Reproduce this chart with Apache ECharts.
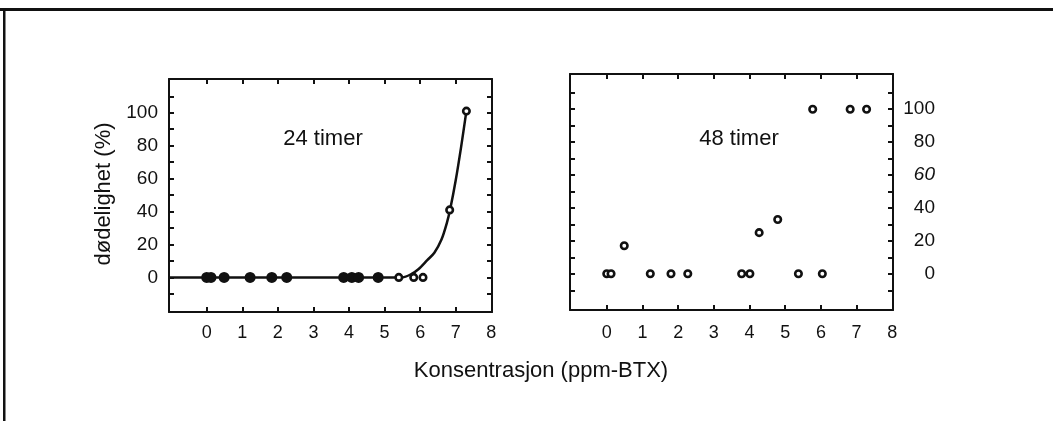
<!DOCTYPE html>
<html>
<head>
<meta charset="utf-8">
<script src="https://cdn.jsdelivr.net/npm/echarts@6/dist/echarts.min.js"></script>
<style>
html,body{margin:0;padding:0;background:#fff;}
#c{width:1053px;height:421px;}
</style>
</head>
<body>
<div id="c"></div>
<script>
// ---- data ----
const xTickValues = [0, 1, 2, 3, 4, 5, 6, 7, 8];
const yTickValues = [-10, 0, 10, 20, 30, 40, 50, 60, 70, 80, 90, 100, 110];
const yLabelValues = [0, 20, 40, 60, 80, 100];

// 24 timer (left panel)
const conc24Filled = [0, 0.12, 0.49, 1.22, 1.83, 2.25, 3.85, 4.08, 4.27, 4.82];
const mort24Filled = [0, 0, 0, 0, 0, 0, 0, 0, 0, 0];
const conc24Open = [5.4, 5.82, 6.08, 6.83, 7.3];
const mort24Open = [0, 0, 0, 41, 101];
const curve24X = [-1.06, 5.5, 5.75, 5.95, 6.2, 6.4, 6.6, 6.75, 6.85, 7.0, 7.15, 7.3];
const curve24Y = [0, 0, 2, 5, 10.5, 15, 23, 33, 42, 59, 79, 101];

// 48 timer (right panel)
const conc48 = [0, 0.12, 0.49, 1.22, 1.8, 2.27, 3.78, 4.01, 4.27, 4.79, 5.37, 5.77, 6.04, 6.82, 7.28];
const mort48 = [0, 0, 17, 0, 0, 0, 0, 0, 25, 33, 0, 100, 0, 100, 100];

const FONT = '"Liberation Sans", Arial, Helvetica, sans-serif';
const INK = '#111';

function pairs(xs, ys) { return xs.map((x, i) => [x, ys[i]]); }

const axisLine = { show: true, onZero: false, lineStyle: { color: INK, width: 2 } };
function tick(vals) {
  return { show: true, inside: true, length: 5, customValues: vals, lineStyle: { color: INK, width: 2 } };
}

function xAxes(gridIndex, min, max, margin) {
  return [
    { type: 'value', gridIndex, position: 'bottom', min, max, axisLine,
      axisTick: tick(xTickValues), splitLine: { show: false },
      axisLabel: { show: true, customValues: xTickValues, margin, color: INK, fontSize: 18, fontFamily: FONT } },
    { type: 'value', gridIndex, position: 'top', min, max, axisLine,
      axisTick: tick(xTickValues), splitLine: { show: false }, axisLabel: { show: false } }
  ];
}

function yAxes(gridIndex, min, max, labelSide) {
  const labelled = {
    show: true, customValues: yLabelValues, color: INK, fontSize: 19, fontFamily: FONT,
    formatter: v => (labelSide === 'right' && v === 60) ? '{it|60}' : String(v),
    rich: { it: { fontStyle: 'italic', fontSize: 19, fontFamily: FONT, color: INK } }
  };
  if (labelSide === 'right') { labelled.align = 'right'; labelled.margin = 42; }
  else { labelled.margin = 11; }
  return [
    { type: 'value', gridIndex, position: 'left', min, max, axisLine,
      axisTick: tick(yTickValues), splitLine: { show: false },
      axisLabel: labelSide === 'left' ? labelled : { show: false } },
    { type: 'value', gridIndex, position: 'right', min, max, axisLine,
      axisTick: tick(yTickValues), splitLine: { show: false },
      axisLabel: labelSide === 'right' ? labelled : { show: false } }
  ];
}

const openCircle = { color: '#fff', borderColor: INK, borderWidth: 2.6, opacity: 1 };

const option = {
  backgroundColor: '#fff',
  animation: false,
  grid: [
    { left: 169, top: 79, width: 323, height: 233 },
    { left: 570, top: 74, width: 323, height: 236 }
  ],
  xAxis: [...xAxes(0, -1.06, 8.02, 12), ...xAxes(1, -1.03, 8.02, 14)],
  yAxis: [...yAxes(0, -21, 120.5, 'left'), ...yAxes(1, -22, 121.4, 'right')],
  series: [
    { type: 'line', xAxisIndex: 0, yAxisIndex: 0, data: pairs(curve24X, curve24Y),
      smooth: 0.3, showSymbol: false, lineStyle: { color: INK, width: 2.5 }, z: 2 },
    { type: 'scatter', xAxisIndex: 0, yAxisIndex: 0, data: pairs(conc24Filled, mort24Filled),
      symbol: 'circle', symbolSize: 11, itemStyle: { color: INK, opacity: 1 }, z: 3 },
    { type: 'scatter', xAxisIndex: 0, yAxisIndex: 0, data: pairs(conc24Open, mort24Open),
      symbol: 'circle', symbolSize: 6.5, itemStyle: openCircle, z: 3 },
    { type: 'scatter', xAxisIndex: 2, yAxisIndex: 2, data: pairs(conc48, mort48),
      symbol: 'circle', symbolSize: 6.5, itemStyle: openCircle, z: 3 }
  ],
  graphic: [
    { type: 'rect', shape: { x: 0, y: 8, width: 1053, height: 3 }, style: { fill: INK } },
    { type: 'rect', shape: { x: 3, y: 8, width: 2.5, height: 413 }, style: { fill: INK } },
    { type: 'text', x: 323, y: 139, style: { text: '24 timer', fontSize: 22, fontFamily: FONT, fill: INK, align: 'center', verticalAlign: 'middle' } },
    { type: 'text', x: 739, y: 139, style: { text: '48 timer', fontSize: 22, fontFamily: FONT, fill: INK, align: 'center', verticalAlign: 'middle' } },
    { type: 'text', x: 104, y: 194, rotation: Math.PI / 2, style: { text: 'dødelighet (%)', fontSize: 22, fontFamily: FONT, fill: INK, align: 'center', verticalAlign: 'middle' } },
    { type: 'text', x: 541, y: 371, style: { text: 'Konsentrasjon (ppm-BTX)', fontSize: 22, fontFamily: FONT, fill: INK, align: 'center', verticalAlign: 'middle' } }
  ]
};

const chart = echarts.init(document.getElementById('c'), null, { renderer: 'canvas' });
chart.setOption(option);
</script>
</body>
</html>
